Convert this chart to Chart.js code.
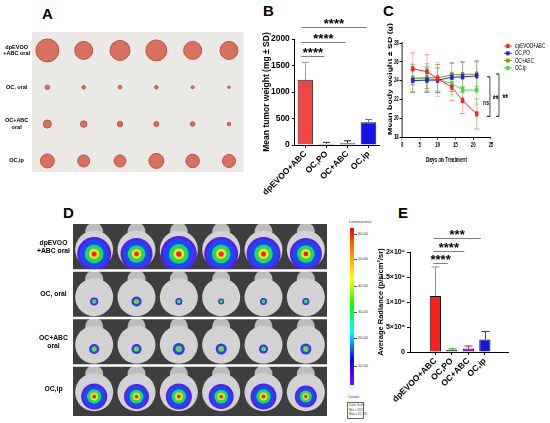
<!DOCTYPE html>
<html><head><meta charset="utf-8">
<script src="https://cdn.jsdelivr.net/npm/chart.js@4.4.1/dist/chart.umd.min.js"></script>
<style>
html,body{margin:0;padding:0;background:#fff;}
body{width:550px;height:423px;position:relative;overflow:hidden;font-family:'Liberation Sans',Arial,sans-serif;}
canvas{position:absolute;}
.letter{position:absolute;font-weight:bold;font-size:15px;line-height:15px;color:#000;}
.cb{position:absolute;color:#333;font-size:4px;line-height:4px;white-space:nowrap;}
</style></head><body>
<div class="letter" style="left:42px;top:6px">A</div>
<div class="letter" style="left:263px;top:3px">B</div>
<div class="letter" style="left:383px;top:3px">C</div>
<div class="letter" style="left:63px;top:205px">D</div>
<div class="letter" style="left:398px;top:205px">E</div>
<canvas id="cA" width="256" height="200" style="left:0;top:0"></canvas>
<canvas id="cD" width="346" height="230" style="left:0;top:205px"></canvas>
<canvas id="cB" width="130" height="210" style="left:259px;top:0"></canvas>
<canvas id="cC" width="256" height="175" style="left:384px;top:0;transform:scaleX(0.65);transform-origin:0 0"></canvas>
<canvas id="cE" width="146" height="198" style="left:376px;top:225px"></canvas>

<div class="cb" style="left:349px;top:220px;font-size:3.5px">Luminescence</div>
<div style="position:absolute;left:350px;top:228px;width:4px;height:157px;background:linear-gradient(to bottom,#ff0000 0%,#ff7f00 14%,#ffff00 32%,#00ff00 50%,#00ffff 66%,#0000ff 84%,#8a00ff 100%)"></div>
<div id="cbTicks"></div>
<div class="cb" style="left:348px;top:395px;font-size:3.5px">Counts</div>
<div class="cb" style="left:347px;top:402px;width:14px;height:15px;border:0.5px solid #666;font-size:3px;line-height:4.5px;padding-left:1px">Color Scale<br>Min = 3137<br>Max = 62,730</div>

<script>
// ================= DATA =================
const groups = ['dpEVOO+ABC', 'OC,PO', 'OC+ABC', 'OC,ip'];

// Panel B: tumor weight (mg)
const tumorWeightMean = [1230, 25, 35, 430];
const tumorWeightSD   = [330, 25, 45, 50];
const tumorWeightTicks = [0, 500, 1000, 1500, 2000];
const tumorSig = ['****', '****', '****'];   // dpEVOO+ABC vs OC,PO / OC+ABC / OC,ip

// Panel C: body weight (g)
const days = [3, 7, 10, 14, 17, 21];
const bwDpEVOO   = [25.25, 24.95, 24.2, 23.3, 21.9, 20.45];
const bwDpEVOOsd = [1.7, 1.8, 1.5, 1.4, 1.4, 1.6];
const bwOCPO     = [24.0, 24.05, 24.05, 24.35, 24.4, 24.5];
const bwOCPOsd   = [1.2, 1.3, 1.3, 1.5, 1.6, 1.6];
const bwOCABC    = [24.25, 24.3, 24.3, 24.6, 24.65, 24.7];
const bwOCABCsd  = [1.5, 1.5, 1.4, 1.3, 1.3, 1.3];
const bwOCip     = [24.2, 24.2, 24.1, 23.7, 23.0, 23.0];
const bwOCipsd   = [1.5, 1.3, 1.8, 1.2, 1.2, 1.5];
const bwXTicks = [0, 5, 10, 15, 20, 25];
const bwYTicks = [18, 20, 22, 24, 26, 28];
const bwSig = ['ns', '**'];

// Panel E: average radiance (p/s/cm²/sr)
const radianceMean = [1.12e9, 0.04e9, 0.07e9, 0.25e9];
const radianceSD   = [0.58e9, 0.025e9, 0.05e9, 0.16e9];
const radianceTicks = [0, 5e8, 1e9, 1.5e9, 2e9];
const radianceTickLabels = ['0', '5×10⁸', '1×10⁹', '1.5×10⁹', '2×10⁹'];
const radianceSig = ['****', '****', '***'];

// Panel A: excised tumors (relative size per mouse, 6 mice per group)
const rowLabels = [['dpEVOO', '+ABC oral'], 'OC, oral', ['OC+ABC', 'oral'], 'OC,ip'];
const tumorSizeDpEVOO = [23, 18, 20, 21, 18, 18];
const tumorSizeOCoral = [4.5, 3.5, 3.5, 3.5, 3, 2.5];
const tumorSizeOCABC  = [8, 6.5, 5.5, 5, 4.5, 3.5];
const tumorSizeOCip   = [14, 12, 12, 15, 13.5, 13];

// Panel D: bioluminescence signal extent per mouse
const signalDpEVOO = [17, 16, 18, 17, 17, 16];
const signalOCoral = [4, 5, 3.5, 3, 3.5, 3.5];
const signalOCABC  = [5, 5, 6, 5.5, 4.5, 5.5];
const signalOCip   = [13, 12.5, 13, 12.5, 13, 11];
const colorbarTicks = ['60.00', '50.00', '40.00', '30.00', '20.00', '10.00'];

// ================= STYLE =================
const FONT = "'Liberation Sans', Arial, sans-serif";
Chart.defaults.font.family = FONT;
Chart.defaults.color = '#000';
Chart.defaults.animation = false;
Chart.defaults.responsive = false;
Chart.defaults.plugins.legend.display = false;
Chart.defaults.plugins.tooltip.enabled = false;

const barColorsB = ['#f24444', '#1f8f2f', '#8a1aa0', '#1414e6'];
const errColorsB = ['#9a9a9a', '#222', '#222', '#6a6ab0'];
const barColorsE = ['#ff1e1e', '#1f9a35', '#8d1aa8', '#1414d8'];
const errColorsE = ['#a08a8a', '#1f9a35', '#8d1aa8', '#3030c0'];
const lineColors = ['#ff2020', '#2020e8', '#8e8e10', '#3ee03e'];
const lineErrColors = ['rgba(255,40,40,0.5)', 'rgba(40,40,230,0.5)', 'rgba(140,140,20,0.5)', 'rgba(60,220,60,0.5)'];

const axisGrid = { drawOnChartArea: false, drawTicks: true, tickLength: 3, color: '#000', offset: false };
const axisBorder = { display: true, color: '#000', width: 1 };

function barErrorPlugin(sd, colors, capHalf) {
  return { id: 'barErr', afterDatasetsDraw(chart) {
    const ctx = chart.ctx, ys = chart.scales.y, meta = chart.getDatasetMeta(0);
    const vals = chart.data.datasets[0].data;
    ctx.save(); ctx.lineWidth = 1;
    meta.data.forEach((bar, i) => {
      const v = typeof vals[i] === 'object' ? vals[i].y : vals[i];
      const top = ys.getPixelForValue(v + sd[i]);
      const x = Math.round(bar.x) + 0.5;
      ctx.strokeStyle = colors[i];
      ctx.beginPath();
      ctx.moveTo(x, bar.y); ctx.lineTo(x, top);
      ctx.moveTo(x - capHalf, top); ctx.lineTo(x + capHalf, top);
      ctx.stroke();
    });
    ctx.restore();
  }};
}

function sigPlugin(labels, base, step, inL, inR) {
  return { id: 'sig', afterDraw(chart) {
    const ctx = chart.ctx, area = chart.chartArea, meta = chart.getDatasetMeta(0);
    ctx.save();
    labels.forEach((lab, lvl) => {
      const y = Math.round(area.top + base - lvl * step) + 0.5;
      const x1 = meta.data[0].x - inL, x2 = meta.data[lvl + 1].x - inR;
      ctx.strokeStyle = '#808080'; ctx.lineWidth = 1;
      ctx.beginPath(); ctx.moveTo(x1, y); ctx.lineTo(x2, y); ctx.stroke();
      ctx.fillStyle = '#000'; ctx.font = 'bold 13px ' + FONT;
      ctx.textAlign = 'center'; ctx.textBaseline = 'alphabetic';
      ctx.fillText(lab, (x1 + x2) / 2, y + 0.5);
    });
    ctx.restore();
  }};
}

// ================= PANEL B =================
new Chart(document.getElementById('cB'), {
  type: 'bar',
  data: { labels: groups, datasets: [{ data: tumorWeightMean, backgroundColor: barColorsB, borderColor: '#222', borderWidth: 1, barPercentage: 0.74, categoryPercentage: 1 }] },
  options: {
    layout: { padding: { top: 39, right: 10, left: 0, bottom: 0 } },
    scales: {
      x: { grid: axisGrid, border: axisBorder,
           ticks: { minRotation: 45, maxRotation: 45, autoSkip: false, font: { size: 8.5, weight: 'bold' }, padding: 1 },
           afterFit: s => { s.height = 65; } },
      y: { min: 0, max: 2000,
           afterBuildTicks: s => { s.ticks = tumorWeightTicks.map(v => ({ value: v })); },
           grid: axisGrid, border: axisBorder,
           ticks: { callback: v => String(v), font: { size: 8.5, weight: 'bold' }, padding: 2 },
           title: { display: true, text: 'Mean tumor weight (mg ± SD)', font: { size: 8.5, weight: 'bold' }, padding: 0 },
           afterFit: s => { s.width = 33; } }
    }
  },
  plugins: [barErrorPlugin(tumorWeightSD, errColorsB, 3.5), sigPlugin(tumorSig, 17, 14.5, 4, 2)]
});

// ================= PANEL C =================
const bwSeries = [bwDpEVOO, bwOCPO, bwOCABC, bwOCip];
const bwSDs = [bwDpEVOOsd, bwOCPOsd, bwOCABCsd, bwOCipsd];
new Chart(document.getElementById('cC'), {
  type: 'line',
  data: { datasets: bwSeries.map((arr, k) => ({
    label: groups[k],
    data: arr.map((v, i) => ({ x: days[i], y: v })),
    borderColor: lineColors[k], backgroundColor: lineColors[k],
    borderWidth: 1, pointStyle: 'rect', pointRadius: 3, tension: 0
  })) },
  options: {
    layout: { padding: { top: 43, right: 91.4, left: 0, bottom: 0 } },
    scales: {
      x: { type: 'linear', min: 0, max: 25,
           afterBuildTicks: s => { s.ticks = bwXTicks.map(v => ({ value: v })); },
           grid: { drawOnChartArea: false, drawTicks: true, tickLength: 3, color: '#000' }, border: { color: '#000', width: 1 },
           ticks: { font: { size: 6.5, weight: 'bold' }, padding: 1, maxRotation: 0 },
           title: { display: true, text: 'Days on Treatment', font: { size: 7, weight: 'bold' }, padding: { top: 0, bottom: 11 } },
           afterFit: s => { s.height = 38; } },
      y: { min: 18, max: 28,
           afterBuildTicks: s => { s.ticks = bwYTicks.map(v => ({ value: v })); },
           grid: { drawOnChartArea: false, drawTicks: true, tickLength: 4, color: '#000' }, border: { color: '#000', width: 1.5 },
           ticks: { font: { size: 6.5, weight: 'bold' }, padding: 1 },
           afterFit: s => { s.width = 27.7; } }
    }
  },
  plugins: [{
    id: 'cExtras',
    beforeDatasetsDraw(chart) {
      const ctx = chart.ctx, ys = chart.scales.y;
      ctx.save(); ctx.lineWidth = 1;
      chart.data.datasets.forEach((ds, k) => {
        const meta = chart.getDatasetMeta(k);
        ctx.strokeStyle = lineErrColors[k];
        meta.data.forEach((pt, i) => {
          const v = bwSeries[k][i], sd = bwSDs[k][i];
          const t = ys.getPixelForValue(v + sd), b = ys.getPixelForValue(v - sd);
          ctx.beginPath();
          ctx.moveTo(pt.x, t); ctx.lineTo(pt.x, b);
          ctx.moveTo(pt.x - 3.8, t); ctx.lineTo(pt.x + 3.8, t);
          ctx.moveTo(pt.x - 3.8, b); ctx.lineTo(pt.x + 3.8, b);
          ctx.stroke();
        });
      });
      ctx.restore();
    },
    afterDraw(chart) {
      const ctx = chart.ctx, area = chart.chartArea, xs = chart.scales.x, ys = chart.scales.y;
      ctx.save();
      ctx.translate(9.2, 79); ctx.rotate(-Math.PI / 2);
      ctx.font = 'bold 8.8px ' + FONT; ctx.fillStyle = '#000';
      ctx.textAlign = 'center'; ctx.textBaseline = 'middle';
      ctx.fillText('Mean body weight ± SD (g)', 0, 0);
      ctx.restore();
      ctx.save();
      chart.data.datasets.forEach((ds, k) => {
        const y = 46 + k * 7.3, xm = area.right + 26;
        ctx.strokeStyle = ds.borderColor; ctx.lineWidth = 1;
        ctx.beginPath(); ctx.moveTo(xm - 6, y); ctx.lineTo(xm + 6, y); ctx.stroke();
        ctx.fillStyle = ds.borderColor; ctx.fillRect(xm - 2.5, y - 2, 5, 4);
        ctx.fillStyle = '#000'; ctx.font = '7px ' + FONT; ctx.textAlign = 'left'; ctx.textBaseline = 'middle';
        ctx.fillText(ds.label, area.right + 37, y);
      });
      const brackets = [[24.7, 24.4, 20.2], [27.25, 24.7, 20.2]];
      ctx.strokeStyle = '#000'; ctx.lineWidth = 1;
      brackets.forEach(b => {
        const x = xs.getPixelForValue(b[0]), xa = xs.getPixelForValue(b[0] - 0.85);
        const y1 = ys.getPixelForValue(b[1]), y2 = ys.getPixelForValue(b[2]);
        ctx.beginPath(); ctx.moveTo(xa, y1); ctx.lineTo(x, y1); ctx.lineTo(x, y2); ctx.lineTo(xa, y2); ctx.stroke();
      });
      ctx.fillStyle = '#000'; ctx.textAlign = 'center'; ctx.textBaseline = 'middle';
      ctx.font = 'bold 7.5px ' + FONT;
      ctx.fillText(bwSig[0], xs.getPixelForValue(23.6), ys.getPixelForValue(21.6));
      ctx.font = 'bold 11px ' + FONT;
      ctx.fillText(bwSig[1], xs.getPixelForValue(26.3), ys.getPixelForValue(21.9));
      ctx.fillText(bwSig[1], xs.getPixelForValue(29.0), ys.getPixelForValue(22.0));
      ctx.restore();
    }
  }]
});

// ================= PANEL E =================
new Chart(document.getElementById('cE'), {
  type: 'bar',
  data: { datasets: [{ data: radianceMean.map((v, i) => ({ x: i + 1, y: v })), backgroundColor: barColorsE, borderColor: '#111', borderWidth: 1, barPercentage: 0.68, categoryPercentage: 1 }] },
  options: {
    layout: { padding: { top: 27, right: 14, left: 0, bottom: 0 } },
    scales: {
      x: { type: 'linear', min: 0.205, max: 4.66,
           afterBuildTicks: s => { s.ticks = groups.map((g, i) => ({ value: i + 1 })); },
           grid: axisGrid, border: axisBorder,
           ticks: { callback: v => groups[v - 1], minRotation: 45, maxRotation: 45, autoSkip: false, font: { size: 8.5, weight: 'bold' }, padding: 1 },
           afterFit: s => { s.height = 71; } },
      y: { min: 0, max: 2e9,
           afterBuildTicks: s => { s.ticks = radianceTicks.map(v => ({ value: v })); },
           grid: axisGrid, border: axisBorder,
           ticks: { callback: v => radianceTickLabels[radianceTicks.indexOf(v)], font: { size: 7, weight: 'bold' }, padding: 2 },
           title: { display: true, text: 'Average Radiance (p/s/cm²/sr)', font: { size: 7.5, weight: 'bold' }, padding: 0 },
           afterFit: s => { s.width = 34; } }
    }
  },
  plugins: [barErrorPlugin(radianceSD, errColorsE, 4), sigPlugin(radianceSig, 11, 12.5, 2, 4)]
});

// ================= PANEL A =================
const tumorRowsA = [tumorSizeDpEVOO, tumorSizeOCoral, tumorSizeOCABC, tumorSizeOCip];
const tumorPoints = [];
tumorRowsA.forEach((row, r) => row.forEach((s, c) => tumorPoints.push({ x: c + 1, y: r + 1, r: s / 2 })));
new Chart(document.getElementById('cA'), {
  type: 'bubble',
  data: { datasets: [{ data: tumorPoints, backgroundColor: '#d8705f', borderColor: '#bb5446', borderWidth: 1 }] },
  options: {
    layout: { padding: { top: 32, right: 4, left: 0, bottom: 28 } },
    scales: {
      x: { type: 'linear', min: 0.577, max: 6.4, display: false },
      y: { type: 'linear', reverse: true, min: 0.5, max: 4.3,
           afterBuildTicks: s => { s.ticks = [1, 2, 3, 4].map(v => ({ value: v })); },
           grid: { display: false, drawTicks: false }, border: { display: false },
           ticks: { callback: v => rowLabels[v - 1], crossAlign: 'center', font: { size: 5.5, weight: 'bold' }, padding: 2 },
           afterFit: s => { s.width = 32; } }
    }
  },
  plugins: [{ id: 'paper', beforeDatasetsDraw(chart) {
    const { ctx, chartArea: a } = chart;
    ctx.save(); ctx.fillStyle = '#ebe9e6'; ctx.fillRect(a.left, a.top, a.width, a.height); ctx.restore();
  }}]
});

// ================= PANEL D =================
const signalRows = [signalDpEVOO, signalOCoral, signalOCABC, signalOCip];
const ringFrac = [1, 0.85, 0.55, 0.3, 0.15];
const ringColors = ['#5a1ee0', '#1e46ff', '#1edc5a', '#f0e61e', '#ff1e1e'];
const mouseBody = [], mouseHead = [];
signalRows.forEach((row, r) => row.forEach((s, c) => {
  mouseBody.push({ x: c + 1, y: r + 1.06, r: 19 });
  mouseHead.push({ x: c + 1, y: r + 0.68, r: 9 });
}));
const dDatasets = [
  { data: mouseHead, backgroundColor: '#bdbdbd', borderWidth: 0 },
  { data: mouseBody, backgroundColor: '#d2d2d2', borderWidth: 0 }
];
ringFrac.forEach((f, k) => {
  const pts = [];
  signalRows.forEach((row, r) => row.forEach((s, c) => pts.push({ x: c + 1, y: r + 1.15, r: s * f })));
  dDatasets.push({ data: pts, backgroundColor: ringColors[k], borderWidth: 0 });
});
dDatasets.forEach((d, i) => d.order = dDatasets.length - i);
new Chart(document.getElementById('cD'), {
  type: 'bubble',
  data: { datasets: dDatasets },
  options: {
    layout: { padding: { top: 14, right: 1, left: 0, bottom: 14 } },
    scales: {
      x: { type: 'linear', min: 0.5, max: 6.5, display: false },
      y: { type: 'linear', reverse: true, min: 0.52, max: 4.56,
           afterBuildTicks: s => { s.ticks = [1, 2, 3, 4].map(v => ({ value: v })); },
           grid: { display: false, drawTicks: false }, border: { display: false },
           ticks: { callback: v => rowLabels[v - 1], crossAlign: 'center', font: { size: 6.8, weight: 'bold' }, padding: 3 },
           afterFit: s => { s.width = 73; } }
    }
  },
  plugins: [{ id: 'ivis',
    beforeDatasetsDraw(chart) {
      const { ctx, chartArea: a } = chart;
      ctx.save(); ctx.fillStyle = '#3e3e3e'; ctx.fillRect(a.left, a.top, a.width, a.height); ctx.restore();
    },
    afterDatasetsDraw(chart) {
      const { ctx, chartArea: a } = chart, ys = chart.scales.y;
      ctx.save(); ctx.strokeStyle = '#fff'; ctx.lineWidth = 2.5;
      [1.5, 2.5, 3.5].forEach(v => { const y = ys.getPixelForValue(v); ctx.beginPath(); ctx.moveTo(a.left, y); ctx.lineTo(a.right, y); ctx.stroke(); });
      ctx.restore();
    }
  }]
});

// colorbar tick labels
const cbY = [234, 259, 286, 312, 338, 366];
document.getElementById('cbTicks').innerHTML = colorbarTicks.map((t, i) =>
  `<div style="position:absolute;left:354px;top:${cbY[i]}px;width:3px;height:0.5px;background:#555"></div>` +
  `<div class="cb" style="left:358px;top:${cbY[i] - 2}px">${t}</div>`).join('');
</script>
</body></html>
